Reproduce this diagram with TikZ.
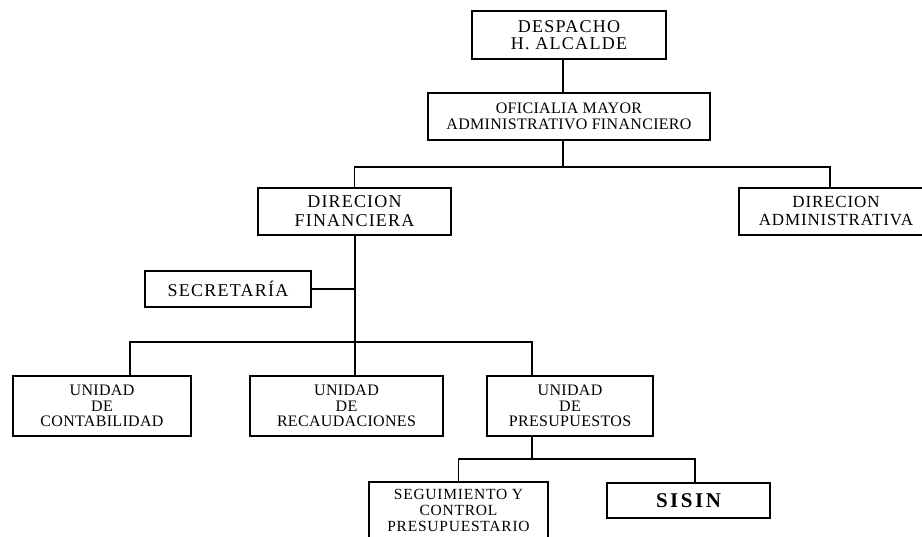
\documentclass[tikz,border=0pt]{standalone}
\usepackage{fontspec}
\setmainfont{Liberation Serif}
\begin{document}
\begin{tikzpicture}[x=1pt,y=-1pt,
  unit/.style={draw, rectangle, line width=1.7, inner sep=0pt, align=center, text=black},
  link/.style={line width=1.7},
]
\useasboundingbox (0,0) rectangle (922,537);
\clip (0,0) rectangle (922,537);

% boxes
\node[unit, minimum width=194, minimum height=48,
      font={\fontsize{18}{17.5}\selectfont\addfontfeature{LetterSpace=7}}]
  (desp) at (569,35) {DESPACHO\\H. ALCALDE};
\node[unit, minimum width=282, minimum height=47,
      font={\fontsize{16}{16}\selectfont\addfontfeature{LetterSpace=2}}]
  (ofi) at (569,116.5) {OFICIALIA MAYOR\\ADMINISTRATIVO FINANCIERO};
\node[unit, minimum width=193, minimum height=47,
      font={\fontsize{18}{19}\selectfont\addfontfeature{LetterSpace=6.5}}]
  (dfin) at (354.5,211.5) {DIRECION\\FINANCIERA};
\node[unit, minimum width=194, minimum height=47,
      font={\fontsize{17}{18}\selectfont\addfontfeature{LetterSpace=5}}]
  (dadm) at (836,211.5) {DIRECION\\ADMINISTRATIVA};
\node[unit, minimum width=166, minimum height=36,
      font={\fontsize{18}{19}\selectfont\addfontfeature{LetterSpace=7}}]
  (secr) at (228,289) {SECRETARÍA};
\node[unit, minimum width=178, minimum height=60,
      font={\fontsize{16}{15.5}\selectfont\addfontfeature{LetterSpace=2}}]
  (cont) at (102,406) {UNIDAD\\DE\\CONTABILIDAD};
\node[unit, minimum width=193, minimum height=60,
      font={\fontsize{16}{15.5}\selectfont\addfontfeature{LetterSpace=2}}]
  (reca) at (346.5,406) {UNIDAD\\DE\\RECAUDACIONES};
\node[unit, minimum width=166, minimum height=60,
      font={\fontsize{16}{15.5}\selectfont\addfontfeature{LetterSpace=2}}]
  (pres) at (570,406) {UNIDAD\\DE\\PRESUPUESTOS};
\node[unit, minimum width=179, minimum height=56,
      font={\fontsize{15.5}{16}\selectfont\addfontfeature{LetterSpace=5}}]
  (seg) at (458.5,510) {SEGUIMIENTO Y\\CONTROL\\PRESUPUESTARIO};
\node[unit, minimum width=163, minimum height=35,
      font={\fontsize{21}{21}\selectfont\bfseries\addfontfeature{LetterSpace=12}}]
  (sisin) at (688.5,500.5) {SISIN};

% junction and drop points
\coordinate (j1) at (563,167);
\coordinate (tadm) at (830,188);
\coordinate (j2) at (355,342);
\coordinate (dc) at (130,376);
\coordinate (dp) at (532,376);
\coordinate (j3) at (532,459);
\coordinate (ds) at (695,483);

% connectors
\draw[link] (desp.south -| j1) -- (ofi.north -| j1);
\draw[link] (ofi.south -| j1) -- (j1);
\draw[link] (dfin.north) -- (dfin.north |- j1) -- (j1 -| tadm) -- (tadm);
\draw[link] (dfin.south -| j2) -- (j2);
\draw[link] (secr.east) -- (secr.east -| j2);
\draw[link] (dc) -- (dc |- j2) -- (dp |- j2) -- (dp);
\draw[link] (j2) -- (reca.north -| j2);
\draw[link] (pres.south -| j3) -- (j3);
\draw[link] (seg.north) -- (seg.north |- j3) -- (j3 -| ds) -- (ds);
\end{tikzpicture}
\end{document}
